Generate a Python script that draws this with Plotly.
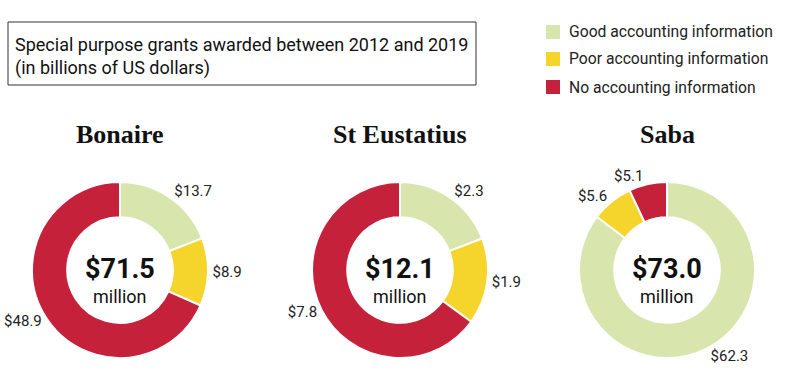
import plotly.graph_objects as go

islands = ["Bonaire", "St Eustatius", "Saba"]
categories = ["Good accounting information", "Poor accounting information", "No accounting information"]
bonaire = [13.7, 8.9, 48.9]
st_eustatius = [2.3, 1.9, 7.8]
saba = [62.3, 5.6, 5.1]
totals = ["$71.5", "$12.1", "$73.0"]
colors = ["#d8e6ad", "#f5d42b", "#c5213b"]

W, H = 800, 392
centers_x = [120, 400, 667]
cy = 270
R = 88

def py(y):
    return (H - y) / H

fig = go.Figure()
for i, (name, vals) in enumerate(zip(islands, [bonaire, st_eustatius, saba])):
    cx = centers_x[i]
    fig.add_trace(go.Pie(
        labels=categories, values=vals, sort=False, direction="clockwise", rotation=0,
        hole=0.6, marker=dict(colors=colors, line=dict(color="white", width=2)),
        texttemplate="$%{value}", textposition="outside",
        textfont=dict(family="Roboto", size=15, color="#222"),
        domain=dict(x=[(cx - R) / W, (cx + R) / W], y=[py(cy + R), py(cy - R)]),
        showlegend=False, hoverinfo="label+value", automargin=False,
    ))
    fig.add_annotation(x=cx / W, y=py(134), xref="paper", yref="paper", xanchor="center", yanchor="middle",
                       text="<b>%s</b>" % name, showarrow=False,
                       font=dict(family="Liberation Serif", size=26, color="#111"))
    fig.add_annotation(x=cx / W, y=py(269), xref="paper", yref="paper", xanchor="center", yanchor="middle",
                       text="<b>%s</b>" % totals[i], showarrow=False,
                       font=dict(family="Roboto", size=27, color="#111"))
    fig.add_annotation(x=cx / W, y=py(296), xref="paper", yref="paper", xanchor="center", yanchor="middle",
                       text="million", showarrow=False, font=dict(family="Roboto", size=18, color="#111"))

# title box
fig.add_shape(type="rect", xref="paper", yref="paper", x0=8 / W, x1=476 / W, y0=py(85), y1=py(22),
              line=dict(color="#333", width=1), fillcolor="rgba(0,0,0,0)")
fig.add_annotation(x=13 / W, y=py(56), xref="paper", yref="paper", xanchor="left", yanchor="middle", align="left",
                   text="Special purpose grants awarded between 2012 and 2019<br>(in billions of US dollars)",
                   showarrow=False, font=dict(family="Roboto", size=18, color="#111"))

# legend
legend_y = [32, 59, 87]
for cat, col, ly in zip(categories, colors, legend_y):
    fig.add_shape(type="rect", xref="paper", yref="paper", x0=546 / W, x1=560 / W, y0=py(ly + 7), y1=py(ly - 7),
                  line=dict(width=0), fillcolor=col)
    fig.add_annotation(x=567 / W, y=py(ly), xref="paper", yref="paper", xanchor="left", yanchor="middle",
                       text=cat, showarrow=False, font=dict(family="Roboto", size=15.7, color="#222"))

fig.update_layout(
    width=W, height=H, margin=dict(l=0, r=0, t=0, b=0), paper_bgcolor="white", plot_bgcolor="white",
    showlegend=False,
)
fig.write_html("out.html", config={"displayModeBar": False},
               post_script="document.body.style.margin='0';")
